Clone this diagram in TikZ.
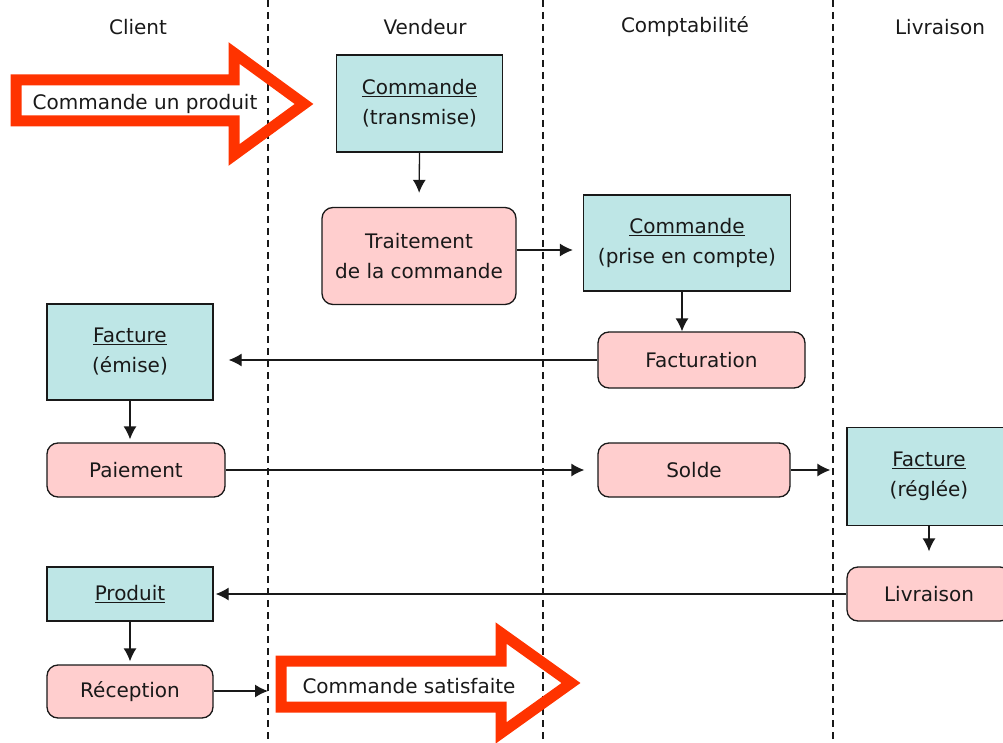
\documentclass[tikz,border=0pt]{standalone}
\usepackage{fontspec}
\setmainfont{DejaVu Sans}
\usetikzlibrary{arrows.meta}
\definecolor{boxcyan}{RGB}{190,230,230}
\definecolor{boxpink}{RGB}{255,206,206}
\definecolor{bigred}{RGB}{255,51,0}
\definecolor{ink}{RGB}{25,25,25}
\begin{document}
\begin{tikzpicture}[x=1pt,y=-1pt,
  every node/.style={font=\fontsize{20}{30}\selectfont, text=ink, align=center, inner sep=0pt},
  doc/.style={draw=ink, line width=1.3pt, fill=boxcyan},
  act/.style={draw=ink, line width=1.3pt, fill=boxpink, rounded corners=11pt},
  flow/.style={draw=ink, line width=1.3pt, -{Latex[length=13pt,width=13pt]}},
  lane/.style={draw=ink, line width=1.6pt, dash pattern=on 7pt off 5pt},
  big/.style={draw=bigred, line width=11pt, line join=miter, miter limit=10}
]
\useasboundingbox (0,0) rectangle (1003,743);
\clip (0,0) rectangle (1003,743);
% swimlane separators
\draw[lane] (268,0) -- (268,743);
\draw[lane] (543,0) -- (543,743);
\draw[lane] (833,0) -- (833,743);
% headers
\node (hclient) at (138,27) {Client};
\node (hvend) at (425,27) {Vendeur};
\node (hcompta) at (685,27) {Comptabilité};
\node (hlivr) at (940,27) {Livraison};
% big arrows
\draw[big] (16,80) -- (234,80) -- (234,53) -- (304,104) -- (234,155) -- (234,121) -- (16,121) -- cycle;
\node (start) at (145,104) {Commande un produit};
\draw[big] (281,661) -- (501,661) -- (501,633) -- (571,683) -- (501,733) -- (501,707) -- (281,707) -- cycle;
\node (fin) at (409,686) {Commande satisfaite};
% nodes
\node[doc, minimum width=166pt, minimum height=97pt] (cmd1) at (419.5,103.5) {\underline{Commande}\\(transmise)};
\node[act, minimum width=194pt, minimum height=97pt] (trait) at (419,256) {Traitement\\de la commande};
\node[doc, minimum width=207pt, minimum height=96pt] (cmd2) at (687,243) {\underline{Commande}\\(prise en compte)};
\node[act, minimum width=207pt, minimum height=56pt] (fact) at (701.5,360) {Facturation};
\node[doc, minimum width=166pt, minimum height=96pt] (fe) at (130,352) {\underline{Facture}\\(émise)};
\node[act, minimum width=178pt, minimum height=54pt] (paie) at (136,470) {Paiement};
\node[act, minimum width=192pt, minimum height=54pt] (solde) at (694,470) {Solde};
\node[doc, minimum width=164pt, minimum height=98pt] (fr) at (929,476.5) {\underline{Facture}\\(réglée)};
\node[act, minimum width=164pt, minimum height=54pt] (livr) at (929,594) {Livraison};
\node[doc, minimum width=166pt, minimum height=54pt] (prod) at (130,594) {\underline{Produit}};
\node[act, minimum width=166pt, minimum height=53pt] (recep) at (130,691.5) {Réception};
\coordinate (recepend) at (268,691);
% connectors
\draw[flow, shorten >=14pt] (cmd1.south) -- (trait.north);
\draw[flow, shorten >=10pt] (trait.east |- 0,250) -- (cmd2.west |- 0,250);
\draw[flow] (cmd2.south -| 682,0) -- (fact.north -| 682,0);
\draw[flow, shorten >=15pt] (fact.west) -- (fact.west -| fe.east);
\draw[flow, shorten >=3pt] (fe.south) -- (paie.north -| fe.south);
\draw[flow, shorten >=13pt] (paie.east) -- (solde.west);
\draw[flow, shorten >=16pt] (solde.east) -- (solde.east -| fr.west);
\draw[flow, shorten >=15pt] (fr.south) -- (livr.north);
\draw[flow, shorten >=2pt] (livr.west) -- (prod.east);
\draw[flow, shorten >=3pt] (prod.south) -- (recep.north);
\draw[flow] (recep.east |- recepend) -- (recepend);
\end{tikzpicture}
\end{document}
